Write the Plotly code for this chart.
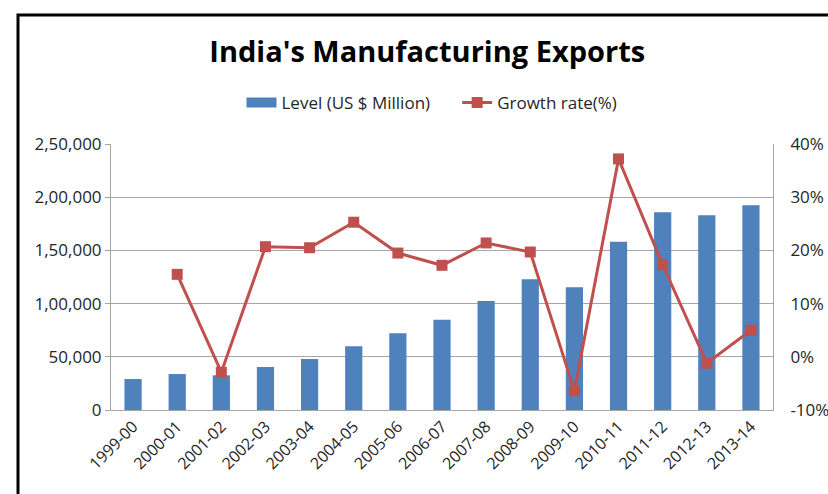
import plotly.graph_objects as go

years = ["1999-00", "2000-01", "2001-02", "2002-03", "2003-04", "2004-05", "2005-06",
         "2006-07", "2007-08", "2008-09", "2009-10", "2010-11", "2011-12", "2012-13", "2013-14"]
level = [29100, 33800, 32600, 40400, 47900, 59900, 72100, 84900, 102400, 122800,
         115300, 158200, 185800, 183000, 192400]
growth = [None, 15.5, -2.9, 20.7, 20.5, 25.3, 19.5, 17.2, 21.4, 19.7, -6.4, 37.2, 17.3, -1.2, 5.0]
left_ticks = [0, 50000, 100000, 150000, 200000, 250000]
left_labels = ["0", "50,000", "1,00,000", "1,50,000", "2,00,000", "2,50,000"]
right_ticks = [-10, 0, 10, 20, 30, 40]
right_labels = ["-10%", "0%", "10%", "20%", "30%", "40%"]

W, H = 828, 494
ml, mr, mt, mb = 111, 55, 144, 84
pw, ph = W - ml - mr, H - mt - mb

font = "Open Sans"
ytick_font = dict(family=font, size=17, color="#262626")
xtick_font = dict(family=font, size=16, color="#262626")
BLUE, RED = "#4F81BD", "#C0504D"

fig = go.Figure()
fig.add_trace(go.Bar(x=years, y=level, name="Level (US $ Million)", showlegend=False,
                     marker=dict(color=BLUE, line=dict(width=0)), yaxis="y"))
# legend proxy for the bars (wide rectangle swatch)
fig.add_trace(go.Scatter(x=[None], y=[None], mode="lines",
                         name="Level (US $ Million)" + "\u00a0" * 5,
                         line=dict(color=BLUE, width=11), yaxis="y"))
fig.add_trace(go.Scatter(x=years, y=growth, name="Growth rate(%)", mode="lines+markers",
                         line=dict(color=RED, width=3),
                         marker=dict(symbol="square", size=11, color=RED),
                         yaxis="y2", connectgaps=False))

def px_x(p):
    return (p - ml) / pw

def px_y(p):
    return (H - mb - p) / ph

fig.update_layout(
    width=W, height=H,
    margin=dict(l=ml, r=mr, t=mt, b=mb, autoexpand=False),
    paper_bgcolor="white", plot_bgcolor="white",
    bargap=0.61,
    title=dict(text="<b>India's Manufacturing Exports</b>", x=0.516, xanchor="center",
               y=1 - 52 / H, yanchor="middle", yref="container",
               font=dict(family=font, size=29, color="black")),
    legend=dict(orientation="h", x=px_x(432), xanchor="center", y=px_y(103), yanchor="middle",
                font=dict(family=font, size=17, color="#262626"), bgcolor="rgba(0,0,0,0)",
                itemwidth=30, tracegroupgap=0),
    xaxis=dict(type="category", range=[-0.5, 14.5], tickangle=-45, tickfont=xtick_font,
               showgrid=False, showline=True, linecolor="#A6A6A6", linewidth=1, ticks=""),
    yaxis=dict(range=[0, 250000], tickvals=left_ticks, ticktext=left_labels, tickfont=ytick_font,
               showgrid=True, gridcolor="#A6A6A6", gridwidth=1, showline=True, linecolor="#A6A6A6",
               ticks="outside", ticklen=5, tickcolor="#A6A6A6", zeroline=False),
    yaxis2=dict(range=[-10, 40], tickvals=right_ticks, ticktext=right_labels, tickfont=ytick_font,
                overlaying="y", side="right", showgrid=False, showline=True, linecolor="#A6A6A6",
                ticks="", zeroline=False, ticklabelstandoff=13),
    shapes=[dict(type="rect", xref="paper", yref="paper",
                 x0=px_x(18), x1=px_x(840), y0=px_y(520), y1=px_y(15),
                 line=dict(color="black", width=3), fillcolor="rgba(0,0,0,0)", layer="above")],
    showlegend=True,
)

fig.write_html("out.html")
